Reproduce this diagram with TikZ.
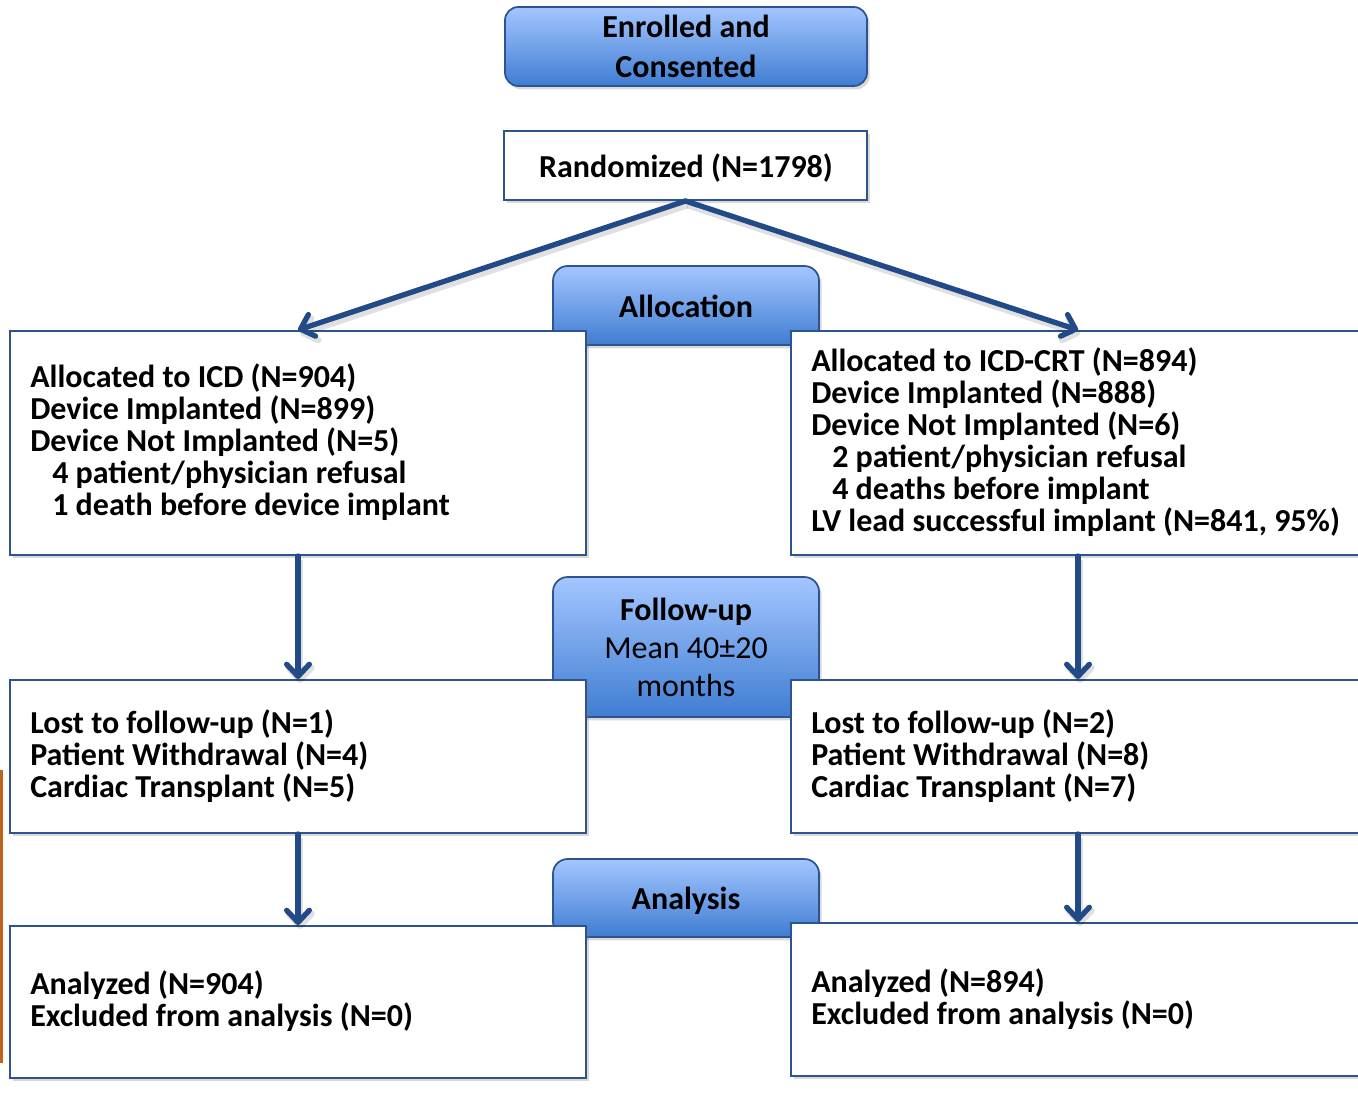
\documentclass[tikz,border=0pt]{standalone}
\usepackage{fontspec}
\setmainfont{Carlito}
\usetikzlibrary{arrows.meta,shadows}

\definecolor{bord}{HTML}{2F5290}
\definecolor{arr}{HTML}{224A86}
\definecolor{tabtop}{HTML}{A4C6FF}
\definecolor{tabbot}{HTML}{3F7DD2}
\definecolor{edgebar}{HTML}{C0621C}

\tikzset{
  whitebox/.style={draw=bord, line width=1.5pt, fill=white, rectangle, inner sep=0pt,
    drop shadow={opacity=0.3, shadow xshift=2.5pt, shadow yshift=-2.5pt}},
  tab/.style={draw=bord, line width=1.3pt, rectangle, rounded corners=11pt, inner sep=0pt,
    top color=tabtop, bottom color=tabbot,
    drop shadow={opacity=0.3, shadow xshift=2pt, shadow yshift=-2.5pt}},
  txt/.style={font=\fontsize{24}{24}\selectfont\bfseries, inner sep=0pt, anchor=base west},
  ctxt/.style={font=\fontsize{24}{24}\selectfont\bfseries, inner sep=0pt, anchor=base},
  rtxt/.style={font=\fontsize{24}{24}\selectfont, inner sep=0pt, anchor=base},
  flow/.style={draw=arr, line width=4pt, line cap=round, line join=round,
    -{Straight Barb[length=9pt,width=17pt,round]},
    preaction={draw=black, opacity=0.12, line width=5pt, transform canvas={shift={(1.5pt,-3pt)}}}}
}

\begin{document}
\begin{tikzpicture}[x=0.75pt,y=-0.75pt]
\useasboundingbox (0,0) rectangle (1358,1099);

% left edge bar
\fill[edgebar] (0,770) rectangle (3,1063);

% top boxes
\node[tab, rounded corners=10pt, minimum width={(867-505)*0.75pt}, minimum height={(86-7)*0.75pt}] (enr) at (686,46.5) {};
\node[ctxt] (enrA) at (686,38) {Enrolled and};
\node[ctxt] (enrB) at (686,77) {Consented};

\node[whitebox, minimum width={(867-504)*0.75pt}, minimum height={(200-131)*0.75pt}] (rand) at (685.5,165.5) {};
\node[ctxt] (randT) at (686,177) {Randomized (N=1798)};

% tabs
\node[tab, minimum width={(819-553)*0.75pt}, minimum height={(345-266)*0.75pt}] (alloc) at (686,305.5) {};
\node[ctxt] (allocT) at (686,317) {Allocation};

\node[tab, minimum width={(819-553)*0.75pt}, minimum height={(717-577)*0.75pt}] (fup) at (686,647) {};
\node[ctxt] (fupA) at (686,620) {Follow-up};
\node[rtxt] (fupB) at (686,658) {Mean 40±20};
\node[rtxt] (fupC) at (686,696) {months};

\node[tab, minimum width={(819-553)*0.75pt}, minimum height={(937-859)*0.75pt}] (anal) at (686,898) {};
\node[ctxt] (analT) at (686,909) {Analysis};

% white boxes
\node[whitebox, minimum width={(586-10)*0.75pt}, minimum height={(555-331)*0.75pt}] (L1) at (298,443) {};
\node[whitebox, minimum width={(1365-791)*0.75pt}, minimum height={(555-331)*0.75pt}] (R1) at (1078,443) {};
\node[whitebox, minimum width={(586-10)*0.75pt}, minimum height={(833-680)*0.75pt}] (L2) at (298,756.5) {};
\node[whitebox, minimum width={(1365-791)*0.75pt}, minimum height={(833-680)*0.75pt}] (R2) at (1078,756.5) {};
\node[whitebox, minimum width={(586-10)*0.75pt}, minimum height={(1078-926)*0.75pt}] (L3) at (298,1002) {};
\node[whitebox, minimum width={(1365-791)*0.75pt}, minimum height={(1076-923)*0.75pt}] (R3) at (1078,999.5) {};

% texts left 1
\node[txt] (l1a) at (30,387) {Allocated to ICD (N=904)};
\node[txt] (l1b) at (30,419) {Device Implanted (N=899)};
\node[txt] (l1c) at (30,451) {Device Not Implanted (N=5)};
\node[txt] (l1d) at (52,483) {4 patient/physician refusal};
\node[txt] (l1e) at (52,515) {1 death before device implant};

% texts right 1
\node[txt] (r1a) at (811,371) {Allocated to ICD-CRT (N=894)};
\node[txt] (r1b) at (811,403) {Device Implanted (N=888)};
\node[txt] (r1c) at (811,435) {Device Not Implanted (N=6)};
\node[txt] (r1d) at (832,467) {2 patient/physician refusal};
\node[txt] (r1e) at (832,499) {4 deaths before implant};
\node[txt] (r1f) at (811,531) {LV lead successful implant (N=841, 95\%)};

% texts box 2
\node[txt] (l2a) at (30,733) {Lost to follow-up (N=1)};
\node[txt] (l2b) at (30,765) {Patient Withdrawal (N=4)};
\node[txt] (l2c) at (30,797) {Cardiac Transplant (N=5)};
\node[txt] (r2a) at (811,733) {Lost to follow-up (N=2)};
\node[txt] (r2b) at (811,765) {Patient Withdrawal (N=8)};
\node[txt] (r2c) at (811,797) {Cardiac Transplant (N=7)};

% texts box 3
\node[txt] (l3a) at (30,994) {Analyzed (N=904)};
\node[txt] (l3b) at (30,1026) {Excluded from analysis (N=0)};
\node[txt] (r3a) at (811,992) {Analyzed (N=894)};
\node[txt] (r3b) at (811,1024) {Excluded from analysis (N=0)};

% arrows
\draw[flow] (rand.south) -- (L1.north);
\draw[flow] (rand.south) -- (R1.north);
\draw[flow] (L1.south) -- (L2.north);
\draw[flow] (R1.south) -- (R2.north);
\draw[flow] (L2.south) -- (L3.north);
\draw[flow] (R2.south) -- (R3.north);
\end{tikzpicture}
\end{document}
